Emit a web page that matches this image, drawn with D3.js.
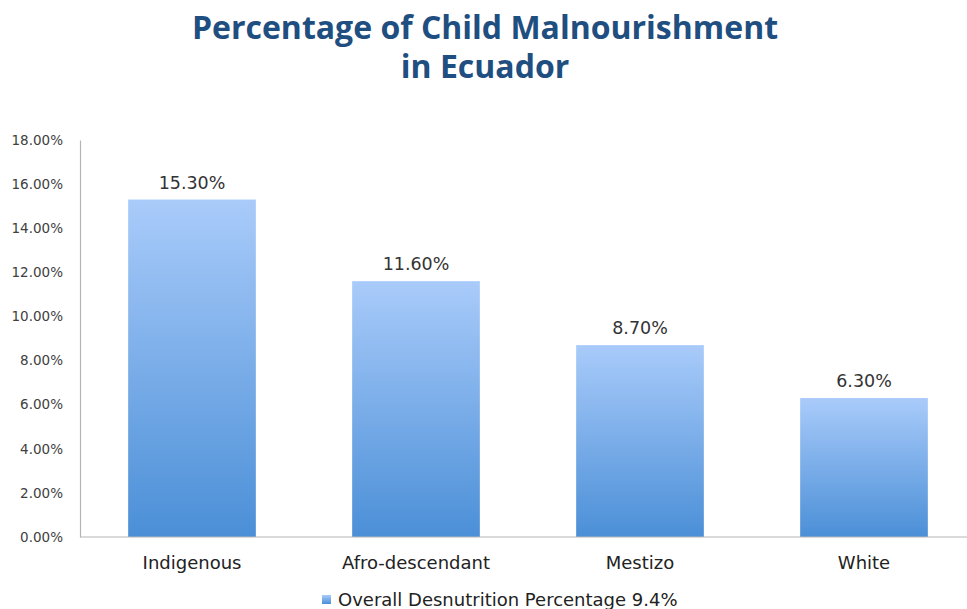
<!DOCTYPE html>
<html>
<head>
<meta charset="utf-8">
<script src="https://cdn.jsdelivr.net/npm/d3@7"></script>
<style>
  body { margin: 0; background: #fff; }
  text { font-family: "DejaVu Sans", "Open Sans", sans-serif; }
  .title { font-family: "Open Sans", sans-serif; }
</style>
</head>
<body>
<div id="chart"></div>
<script>
var svgWidth = 967;
var svgHeight = 609;

// data
var categories = ["Indigenous", "Afro-descendant", "Mestizo", "White"];
var values = [15.3, 11.6, 8.7, 6.3];
var yTicks = [0, 2, 4, 6, 8, 10, 12, 14, 16, 18];
var titleLines = ["Percentage of Child Malnourishment", "in Ecuador"];
var legendLabel = "Overall Desnutrition Percentage 9.4%";

var margin = { top: 140, right: 0, bottom: 72, left: 80 };

var svg = d3.select("#chart")
  .append("svg")
  .attr("width", svgWidth)
  .attr("height", svgHeight);

// gradient per bar, light on top, darker at the base
var grad = svg.append("defs").append("linearGradient")
  .attr("id", "barGrad")
  .attr("x1", 0).attr("y1", 0).attr("x2", 0).attr("y2", 1);
grad.append("stop").attr("offset", "0%").attr("stop-color", "#a9cbfa");
grad.append("stop").attr("offset", "100%").attr("stop-color", "#4b8fd7");

var x = d3.scaleBand()
  .domain(categories)
  .range([margin.left, margin.left + 4 * 224])
  .paddingInner(0.43)
  .paddingOuter(0.215);

var y = d3.scaleLinear()
  .domain([0, 18])
  .range([537, 140]);

// title
svg.append("g").selectAll("text")
  .data(titleLines)
  .enter()
  .append("text")
  .attr("class", "title")
  .attr("x", 485)
  .attr("y", (d, i) => 39 + i * 39)
  .attr("text-anchor", "middle")
  .attr("font-size", "32px")
  .attr("font-weight", "bold")
  .attr("fill", "#1f4e80")
  .text(d => d);

// y axis
var leftAxis = d3.axisLeft(y)
  .tickValues(yTicks)
  .tickSize(0)
  .tickPadding(17)
  .tickFormat(d => d.toFixed(2) + "%");

var yAxisG = svg.append("g")
  .attr("transform", `translate(${margin.left}, 0)`)
  .call(leftAxis);
yAxisG.select(".domain").attr("stroke", "#b5b5b5").attr("stroke-width", 1.2);
yAxisG.selectAll("text")
  .attr("font-size", "13.5px")
  .attr("fill", "#404040");

// bars
svg.append("g").selectAll("rect")
  .data(values)
  .enter()
  .append("rect")
  .attr("x", (d, i) => x(categories[i]))
  .attr("y", d => y(d))
  .attr("width", x.bandwidth())
  .attr("height", d => y(0) - y(d))
  .attr("fill", "url(#barGrad)");

// x axis
var bottomAxis = d3.axisBottom(x).tickSize(0).tickPadding(19);
var xAxisG = svg.append("g")
  .attr("transform", `translate(0, ${y(0)})`)
  .call(bottomAxis);
xAxisG.select(".domain")
  .attr("d", `M${margin.left},0H${svgWidth}`)
  .attr("stroke", "#b5b5b5").attr("stroke-width", 1.2);
xAxisG.selectAll("text")
  .attr("font-size", "18px")
  .attr("fill", "#222");

// value labels
svg.append("g").selectAll("text")
  .data(values)
  .enter()
  .append("text")
  .attr("x", (d, i) => x(categories[i]) + x.bandwidth() / 2)
  .attr("y", d => y(d) - 11)
  .attr("text-anchor", "middle")
  .attr("font-size", "17.5px")
  .attr("fill", "#333")
  .text(d => d.toFixed(2) + "%");

// legend
var legend = svg.append("g").attr("transform", "translate(322, 595)");
legend.append("rect")
  .attr("width", 9).attr("height", 9)
  .attr("fill", "url(#barGrad)");
legend.append("text")
  .attr("x", 16)
  .attr("y", 11)
  .attr("font-size", "18px")
  .attr("fill", "#222")
  .text(legendLabel);
</script>
</body>
</html>
